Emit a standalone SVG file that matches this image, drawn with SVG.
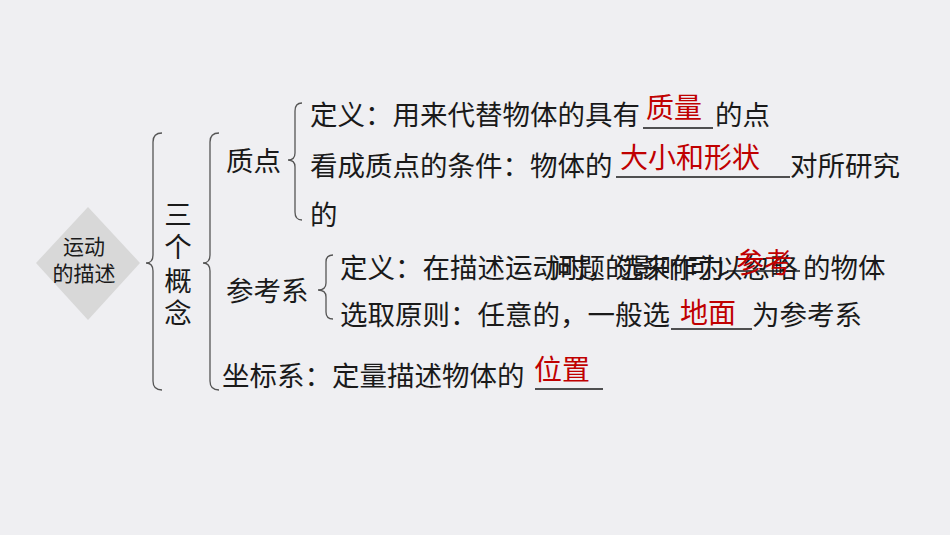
<svg xmlns="http://www.w3.org/2000/svg" width="950" height="535" viewBox="0 0 950 535">
<style>
text{font-family:"Noto Sans CJK SC","Noto Sans",sans-serif;fill:#1a1a1a;font-size:27.5px}
.r{fill:#c00000;font-size:28px}
.d{font-size:21px}
.b{fill:none;stroke:#555;stroke-width:1.3}
.u{stroke:#1a1a1a;stroke-width:1.3}
</style>
<rect x="0" y="0" width="950" height="535" fill="#efeff2"/>
<g id="root">
<polygon points="88,207 140,263 88,320 36,263" fill="#d8d8d8"/>
<text class="d" x="84" y="254" text-anchor="middle">运动</text>
<text class="d" x="84" y="281" text-anchor="middle">的描述</text>
</g>
<g id="connectors">
<path class="b" d="M162,133 Q153,133 153,142 L153,255 Q153,263 146,263 Q153,263 153,271 L153,381 Q153,390 162,390"/>
<path class="b" d="M219,133 Q210,133 210,142 L210,255 Q210,263 203,263 Q210,263 210,271 L210,381 Q210,390 219,390"/>
<path class="b" d="M302,103 Q295,103 295,111 L295,153 Q295,160 288,160 Q295,160 295,167 L295,212 Q295,220 302,220"/>
<path class="b" d="M333,255 Q326,255 326,262 L326,283 Q326,290 318,290 Q326,290 326,297 L326,312 Q326,319 333,319"/>
</g>
<g id="concepts">
<text x="178" y="225" text-anchor="middle">三</text>
<text x="178" y="257" text-anchor="middle">个</text>
<text x="178" y="291" text-anchor="middle">概</text>
<text x="178" y="323" text-anchor="middle">念</text>
</g>
<g id="zhidian">
<text x="226" y="171">质点</text>
<text x="310" y="125">定义：用来代替物体的具有</text>
<line class="u" x1="643" y1="128" x2="713" y2="128"/>
<text class="r" x="646" y="118">质量</text>
<text x="715" y="125">的点</text>
<text x="310" y="176">看成质点的条件：物体的</text>
<line class="u" x1="616" y1="177" x2="790" y2="177"/>
<text class="r" x="620" y="168">大小和形状</text>
<text x="790" y="176">对所研究</text>
<text x="310" y="225">的</text>
</g>
<g id="cankaoxi">
<text x="226" y="301">参考系</text>
<text x="340" y="278">定义：在描述运动时，选来作为</text>
<text x="550" y="278">问题的影响可以忽略</text>
<line class="u" x1="727" y1="271" x2="800" y2="271"/>
<text class="r" x="736" y="273">参考</text>
<text x="803" y="278">的物体</text>
<text x="340" y="325">选取原则：任意的，一般选</text>
<line class="u" x1="671" y1="329" x2="752" y2="329"/>
<text class="r" x="680" y="323">地面</text>
<text x="752" y="325">为参考系</text>
</g>
<g id="zuobiaoxi">
<text x="222" y="386">坐标系：定量描述物体的</text>
<line class="u" x1="535" y1="389" x2="603" y2="389"/>
<text class="r" x="534" y="380">位置</text>
</g>
</svg>
